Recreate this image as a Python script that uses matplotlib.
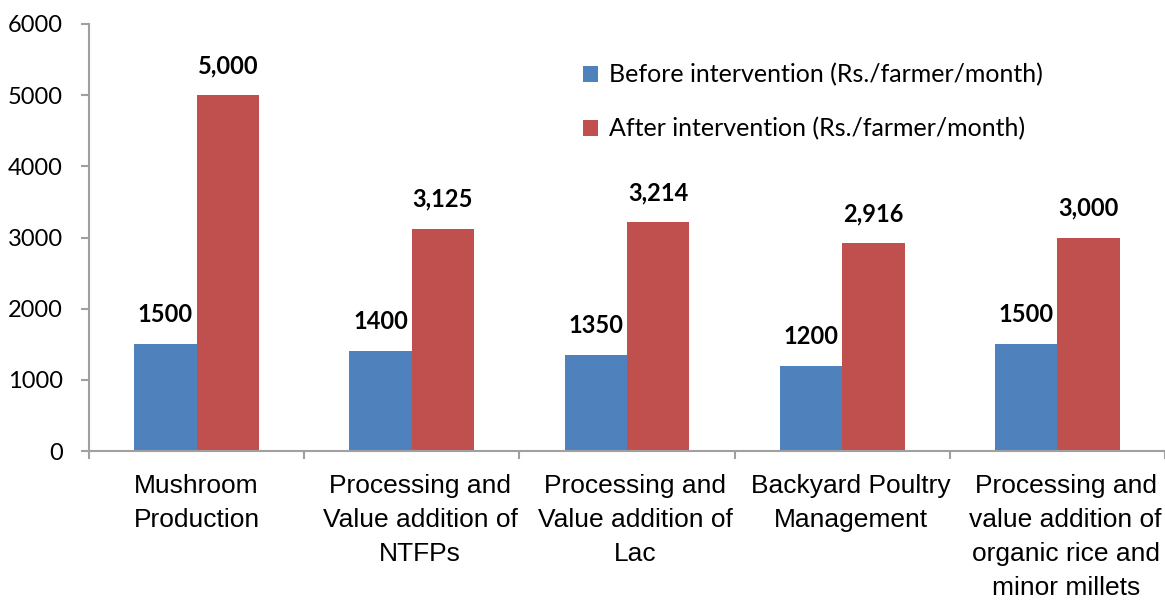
#!/usr/bin/env python3
import matplotlib
matplotlib.use("Agg")
import matplotlib.pyplot as plt
import numpy as np

categories = [
    "Mushroom\nProduction",
    "Processing and\nValue addition of\nNTFPs",
    "Processing and\nValue addition of\nLac",
    "Backyard Poultry\nManagement",
    "Processing and\nvalue addition of\norganic rice and\nminor millets",
]
before = [1500, 1400, 1350, 1200, 1500]
after = [5000, 3125, 3214, 2916, 3000]
series_names = [
    "Before intervention (Rs./farmer/month)",
    "After intervention (Rs./farmer/month)",
]
y_ticks = [0, 1000, 2000, 3000, 4000, 5000, 6000]

BLUE = "#4F81BD"
RED = "#C0504D"
AXIS_GRAY = "#A0A0A0"
CALIBRI_LIKE = ["Lato", "DejaVu Sans"]
ARIAL_LIKE = ["Liberation Sans", "DejaVu Sans"]


def main() -> None:
    fig = plt.figure(figsize=(11.65, 6.01), dpi=100)
    ax = fig.add_axes([89 / 1165, 1 - 451 / 601, 1 - 89 / 1165, (451 - 24) / 601])

    x = np.arange(len(categories))
    w = 0.29
    ax.bar(x - w / 2, before, width=w, color=BLUE, label=series_names[0], zorder=2)
    ax.bar(x + w / 2, after, width=w, color=RED, label=series_names[1], zorder=2)

    for xi, v in zip(x, before):
        ax.annotate(f"{v}", (xi - w / 2, v), xytext=(0, 13), textcoords="offset points",
                    ha="center", va="bottom", fontsize=17, fontweight="bold", family=CALIBRI_LIKE)
    for xi, v in zip(x, after):
        ax.annotate(f"{v:,}", (xi + w / 2, v), xytext=(0, 13), textcoords="offset points",
                    ha="center", va="bottom", fontsize=17, fontweight="bold", family=CALIBRI_LIKE)

    ax.set_xlim(-0.5, len(categories) - 0.5)
    ax.set_ylim(0, 6000)
    ax.set_yticks(y_ticks)
    ax.set_yticklabels([str(t) for t in y_ticks], family=CALIBRI_LIKE, fontsize=17)

    # category names drawn by hand: excel wraps the longer ones a bit right of centre
    ax.set_xticks(x)
    ax.set_xticklabels([""] * len(categories))
    ax.set_xticks(np.arange(len(categories) + 1) - 0.5, minor=True)
    for i, (xi, name) in enumerate(zip(x, categories)):
        dx = 0 if i == 0 else 6
        ax.annotate(name, (xi, 0), xycoords=("data", "axes fraction"),
                    xytext=(dx, -16.5), textcoords="offset points",
                    ha="center", va="top", multialignment="center",
                    fontsize=19, family=ARIAL_LIKE, linespacing=1.52)

    for side in ("top", "right"):
        ax.spines[side].set_visible(False)
    for side in ("left", "bottom"):
        ax.spines[side].set_color(AXIS_GRAY)
        ax.spines[side].set_linewidth(1.5)

    ax.tick_params(axis="y", direction="out", length=6, width=1.5, color=AXIS_GRAY, pad=13)
    ax.tick_params(axis="x", which="major", length=0)
    ax.tick_params(axis="x", which="minor", direction="out", length=6, width=1.5, color=AXIS_GRAY)

    ax.legend(loc="upper left", bbox_to_anchor=(560 / 1165, 1 - 41 / 601),
              bbox_transform=fig.transFigure, frameon=False,
              prop={"family": CALIBRI_LIKE, "size": 18},
              handlelength=0.6, handleheight=0.6, handletextpad=0.45, labelspacing=1.22)

    fig.savefig("out.png", dpi=100)
    plt.close(fig)


if __name__ == "__main__":
    main()
